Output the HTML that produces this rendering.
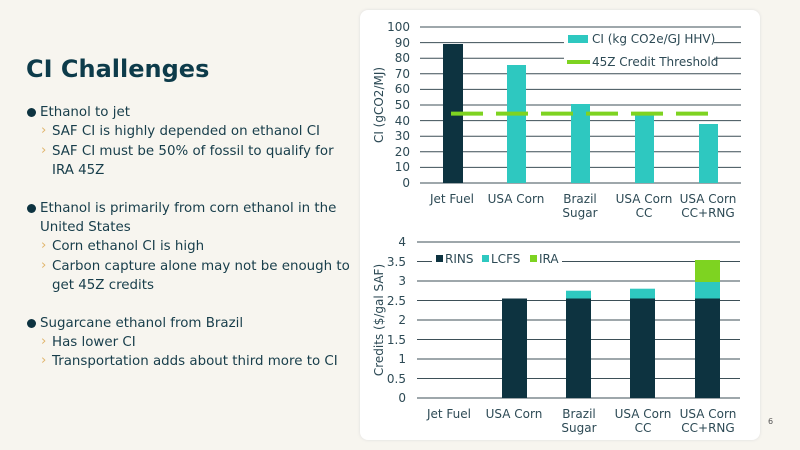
<!DOCTYPE html><html><head><style>
body{margin:0;width:800px;height:450px;background:#f7f5ef;font-family:"DejaVu Sans","Liberation Sans",sans-serif;overflow:hidden;position:relative;color:#173d4a}
.t{position:absolute;font-size:13.4px;white-space:nowrap}
.b::before{content:"";position:absolute;left:-13px;top:3px;width:9px;height:9px;border-radius:50%;background:#0d3340}
.s::before{content:"›";position:absolute;left:-11px;top:-1px;color:#e0b46a}
</style></head><body>
<div style="position:absolute;left:26px;top:55px;font-size:24px;font-weight:bold;color:#0d3b4a">CI Challenges</div>
<div class="t b" style="left:40px;top:105px">Ethanol to jet</div>
<div class="t s" style="left:52px;top:124px">SAF CI is highly depended on ethanol CI</div>
<div class="t s" style="left:52px;top:144px">SAF CI must be 50% of fossil to qualify for</div>
<div class="t" style="left:52px;top:163px">IRA 45Z</div>
<div class="t b" style="left:40px;top:201px">Ethanol is primarily from corn ethanol in the</div>
<div class="t" style="left:40px;top:220px">United States</div>
<div class="t s" style="left:52px;top:239px">Corn ethanol CI is high</div>
<div class="t s" style="left:52px;top:259px">Carbon capture alone may not be enough to</div>
<div class="t" style="left:52px;top:278px">get 45Z credits</div>
<div class="t b" style="left:40px;top:316px">Sugarcane ethanol from Brazil</div>
<div class="t s" style="left:52px;top:335px">Has lower CI</div>
<div class="t s" style="left:52px;top:354px">Transportation adds about third more to CI</div>
<div style="position:absolute;left:360px;top:10px;width:400px;height:430px;background:#fff;border-radius:8px;box-shadow:0 0 3px #ddd"></div>
<svg width="800" height="450" style="position:absolute;left:0;top:0" font-family="DejaVu Sans,Liberation Sans,sans-serif" font-size="12" fill="#2d4a55">
<g stroke="#3d4f57" stroke-width="1">
<line x1="420" x2="741" y1="27" y2="27"/><line x1="420" x2="741" y1="42.6" y2="42.6"/><line x1="420" x2="741" y1="58.2" y2="58.2"/><line x1="420" x2="741" y1="73.8" y2="73.8"/><line x1="420" x2="741" y1="89.4" y2="89.4"/><line x1="420" x2="741" y1="105" y2="105"/><line x1="420" x2="741" y1="120.6" y2="120.6"/><line x1="420" x2="741" y1="136.2" y2="136.2"/><line x1="420" x2="741" y1="151.8" y2="151.8"/><line x1="420" x2="741" y1="167.4" y2="167.4"/><line x1="420" x2="741" y1="183" y2="183"/>
</g>
<g text-anchor="end"><text x="410" y="31">100</text><text x="410" y="47">90</text><text x="410" y="62">80</text><text x="410" y="78">70</text><text x="410" y="93">60</text><text x="410" y="109">50</text><text x="410" y="125">40</text><text x="410" y="140">30</text><text x="410" y="156">20</text><text x="410" y="171">10</text><text x="410" y="187">0</text></g>
<text transform="translate(383,105) rotate(-90)" text-anchor="middle">CI (gCO2/MJ)</text>
<rect x="443" y="44" width="20" height="139" fill="#0d3340"/>
<rect x="507" y="65" width="19" height="118" fill="#2ec8c0"/>
<rect x="571" y="104" width="19" height="79" fill="#2ec8c0"/>
<rect x="635" y="113" width="19" height="70" fill="#2ec8c0"/>
<rect x="699" y="124" width="19" height="59" fill="#2ec8c0"/>
<line x1="451" x2="710" y1="113.6" y2="113.6" stroke="#7ed321" stroke-width="4" stroke-dasharray="32,13"/>
<rect x="564" y="32" width="150" height="38" fill="#fff"/>
<rect x="568" y="35" width="20" height="8" fill="#2ec8c0"/>
<text x="592" y="43">CI (kg CO2e/GJ HHV)</text>
<line x1="567" x2="590" y1="62" y2="62" stroke="#7ed321" stroke-width="4"/>
<text x="592" y="66">45Z Credit Threshold</text>
<g text-anchor="middle"><text x="452" y="203">Jet Fuel</text><text x="516" y="203">USA Corn</text><text x="580" y="203">Brazil</text><text x="580" y="217">Sugar</text><text x="644" y="203">USA Corn</text><text x="644" y="217">CC</text><text x="708" y="203">USA Corn</text><text x="708" y="217">CC+RNG</text></g>
<g stroke="#3d4f57" stroke-width="1">
<line x1="417" x2="740" y1="242" y2="242"/><line x1="417" x2="740" y1="261.5" y2="261.5"/><line x1="417" x2="740" y1="281" y2="281"/><line x1="417" x2="740" y1="300.5" y2="300.5"/><line x1="417" x2="740" y1="320" y2="320"/><line x1="417" x2="740" y1="339.5" y2="339.5"/><line x1="417" x2="740" y1="359" y2="359"/><line x1="417" x2="740" y1="378.5" y2="378.5"/><line x1="417" x2="740" y1="398" y2="398"/>
</g>
<g text-anchor="end"><text x="406" y="246">4</text><text x="406" y="266">3.5</text><text x="406" y="285">3</text><text x="406" y="305">2.5</text><text x="406" y="324">2</text><text x="406" y="344">1.5</text><text x="406" y="363">1</text><text x="406" y="383">0.5</text><text x="406" y="402">0</text></g>
<text transform="translate(383,320) rotate(-90)" text-anchor="middle">Credits ($/gal SAF)</text>
<g fill="#0d3340"><rect x="502" y="298.5" width="25" height="99.5"/><rect x="566" y="298.5" width="25" height="99.5"/><rect x="630" y="298.5" width="25" height="99.5"/><rect x="695" y="298.5" width="25" height="99.5"/></g>
<g fill="#2ec8c0"><rect x="566" y="290.7" width="25" height="7.8"/><rect x="630" y="288.7" width="25" height="9.8"/><rect x="695" y="282" width="25" height="16.5"/></g>
<rect x="695" y="260" width="25" height="22" fill="#7ed321"/>
<rect x="432" y="252" width="130" height="15" fill="#fff"/>
<rect x="436" y="255" width="7" height="7" fill="#0d3340"/><text x="445" y="263">RINS</text>
<rect x="482" y="255" width="7" height="7" fill="#2ec8c0"/><text x="491" y="263">LCFS</text>
<rect x="530" y="255" width="7" height="7" fill="#7ed321"/><text x="539" y="263">IRA</text>
<g text-anchor="middle"><text x="449" y="418">Jet Fuel</text><text x="514" y="418">USA Corn</text><text x="579" y="418">Brazil</text><text x="579" y="432">Sugar</text><text x="643" y="418">USA Corn</text><text x="643" y="432">CC</text><text x="708" y="418">USA Corn</text><text x="708" y="432">CC+RNG</text></g>
<text x="768" y="424" font-size="8" fill="#555">6</text>
</svg>
</body></html>
